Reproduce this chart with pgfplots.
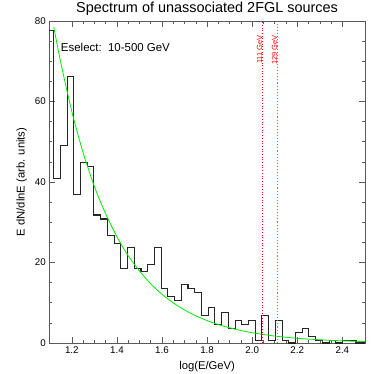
\documentclass[border=0pt]{standalone}
\usepackage{fontspec}
\setmainfont{Liberation Sans}
\usepackage{pgfplots}
\pgfplotsset{compat=1.18}
\definecolor{fitgreen}{RGB}{0,235,0}
\definecolor{axgray}{RGB}{90,90,90}

% histogram: left bin edges, log(E/GeV)
\pgfplotstableread{
x y
1.0894 77.6
1.1192 40.9
1.1490 49.0
1.1788 66.1
1.2086 36.9
1.2384 44.9
1.2682 43.9
1.2980 31.8
1.3278 30.8
1.3576 26.7
1.3875 24.8
1.4173 18.6
1.4471 23.7
1.4769 18.6
1.5067 17.7
1.5365 19.6
1.5663 23.7
1.5961 13.6
1.6259 11.5
1.6557 10.5
1.6855 14.5
1.7153 13.6
1.7451 12.5
1.7749 6.8
1.8047 8.8
1.8346 4.7
1.8644 7.6
1.8942 3.6
1.9240 5.7
1.9538 4.7
1.9836 5.7
2.0134 0.6
2.0432 6.8
2.0730 0.6
2.1028 5.5
2.1326 0.6
2.1624 0.0
2.1922 2.6
2.2220 3.6
2.2518 1.6
2.2816 0.6
2.3114 0.0
2.3412 0.6
2.3710 0.0
2.4008 0.6
2.4306 0.6
2.4604 0.0
2.4902 0.0
2.5200 0.0
}\spectrum

% power-law fit
\pgfplotstableread{
x y
1.12 78.5
1.15 69.9
1.20 57.5
1.25 47.3
1.30 38.9
1.35 32.1
1.40 26.4
1.45 21.7
1.50 17.9
1.55 14.7
1.60 12.1
1.65 9.98
1.70 8.21
1.75 6.76
1.80 5.57
1.85 4.58
1.90 3.77
1.95 3.11
2.00 2.56
2.05 2.11
2.10 1.73
2.15 1.43
2.20 1.17
2.25 0.97
2.30 0.80
2.35 0.65
2.40 0.54
2.45 0.44
2.50 0.37
}\fit

\begin{document}
\begin{tikzpicture}
\path[use as bounding box] (-49.3bp,-31bp) rectangle (324.7bp,343bp);
\begin{axis}[
  scale only axis, width=315.6bp, height=322bp,
  xmin=1.1, xmax=2.5, ymin=0, ymax=80,
  xtick={1.2,1.4,...,2.41}, minor x tick num=3,
  ytick={0,20,...,80}, minor y tick num=3,
  xticklabel style={/pgf/number format/fixed, /pgf/number format/precision=1,
    /pgf/number format/fixed zerofill},
  /pgf/number format/assume math mode=true,
  tick align=inside, major tick length=6bp, minor tick length=3bp,
  tick style={axgray, line width=0.6pt},
  axis line style={axgray, line width=0.8pt},
  ticklabel style={font=\fontsize{9.8}{11}\selectfont},
  xlabel={log(E/GeV)}, ylabel={E dN/dlnE (arb. units)},
  every axis x label/.style={at={(axis description cs:0.5,-0.0745)}, anchor=center,
    font=\fontsize{11.3}{13}\selectfont},
  every axis y label/.style={at={(axis description cs:-0.0875,0.5)}, rotate=90, anchor=center,
    font=\fontsize{11.3}{13}\selectfont},
  title={Spectrum of unassociated 2FGL sources},
  every axis title/.style={font=\fontsize{14.5}{16}\selectfont, anchor=base,
    at={(axis description cs:0.5,1)}, yshift=8bp},
]
\addplot[const plot, black!85, line width=1.1pt] table {\spectrum};
\addplot[fitgreen, line width=0.8pt, smooth] table {\fit};
\addplot[red, dotted, line width=0.7pt] coordinates {(2.0453,0) (2.0453,80)};
\addplot[red!70, dotted, line width=1.1pt] coordinates {(2.1106,0) (2.1106,80)};
\node[red, rotate=90, anchor=east, font=\fontsize{7.5}{9}\selectfont, inner sep=0pt]
  at (axis cs:2.033,76.5) {111 GeV};
\node[red, rotate=90, anchor=east, font=\fontsize{7.5}{9}\selectfont, inner sep=0pt]
  at (axis cs:2.099,76.5) {129 GeV};
\node[anchor=west, font=\fontsize{11.5}{13}\selectfont, inner sep=0pt]
  at (axis cs:1.151,73.4) {Eselect:\ \ 10-500 GeV};
\end{axis}
\end{tikzpicture}
\end{document}
